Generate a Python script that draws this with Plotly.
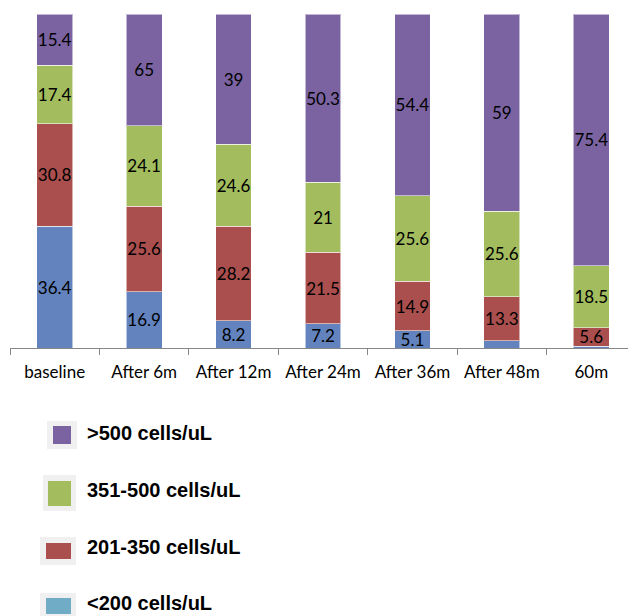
import plotly.graph_objects as go

categories = ["baseline", "After 6m", "After 12m", "After 24m", "After 36m", "After 48m", "60m"]

lt200 = [36.4, 16.9, 8.2, 7.2, 5.1, 2.1, 0.5]
lt200_labels = ["36.4", "16.9", "8.2", "7.2", "5.1", "", ""]
r201_350 = [30.8, 25.6, 28.2, 21.5, 14.9, 13.3, 5.6]
r201_350_labels = ["30.8", "25.6", "28.2", "21.5", "14.9", "13.3", "5.6"]
r351_500 = [17.4, 24.1, 24.6, 21.0, 25.6, 25.6, 18.5]
r351_500_labels = ["17.4", "24.1", "24.6", "21", "25.6", "25.6", "18.5"]
gt500 = [15.4, 33.4, 39.0, 50.3, 54.4, 59.0, 75.4]
gt500_labels = ["15.4", "65", "39", "50.3", "54.4", "59", "75.4"]

series_names = ["<200 cells/uL", "201-350 cells/uL", "351-500 cells/uL", ">500 cells/uL"]
bar_colors = ["#6283BE", "#AA4F4D", "#A2BC5E", "#7A63A0"]
legend_colors = ["#70ACC6", "#AA4F4D", "#A2BC5E", "#7A63A0"]

OFF = 8  # default page body margin
W, H = 636 - OFF, 616 - OFF
PX0, PX1, PY0, PY1 = 10 - OFF, 636 - OFF, 14 - OFF, 348 - OFF
L, R, T, B = PX0, W - PX1, PY0, H - PY1


def px2paper(X, Y):
    X, Y = X - OFF, Y - OFF
    return (X - PX0) / (PX1 - PX0), (PY1 - Y) / (PY1 - PY0)


fig = go.Figure()
for vals, labels, name, col in zip(
    [lt200, r201_350, r351_500, gt500],
    [lt200_labels, r201_350_labels, r351_500_labels, gt500_labels],
    series_names, bar_colors,
):
    fig.add_trace(go.Bar(
        x=categories, y=vals, name=name, text=labels,
        textposition="inside", insidetextanchor="middle", textangle=0,
        textfont=dict(family="Lato", size=17, color="#000000"),
        marker=dict(color=col, line=dict(color="rgba(255,255,255,0.55)", width=1)),
        showlegend=False, hoverinfo="skip", cliponaxis=False,
    ))

# Legend drawn as decorations (top to bottom: >500, 351-500, 201-350, <200)
legend_rows = [
    ((47, 421, 77, 449), (53, 426, 71, 444), 433),
    ((43, 475, 76, 511), (48, 481, 71, 506), 490),
    ((40, 537, 76, 565), (46, 543, 71, 559), 547),
    ((40, 593, 76, 622), (46, 598, 71, 614), 603),
]
order = [3, 2, 1, 0]
shapes = []
annotations = []
for (bg, sq, ty), idx in zip(legend_rows, order):
    bx0, by0 = px2paper(bg[0], bg[1])
    bx1, by1 = px2paper(bg[2], bg[3])
    shapes.append(dict(type="rect", xref="paper", yref="paper", x0=bx0, y0=by0, x1=bx1, y1=by1,
                       fillcolor="#F0F0F0", line=dict(width=0), layer="above"))
    sx0, sy0 = px2paper(sq[0], sq[1])
    sx1, sy1 = px2paper(sq[2], sq[3])
    shapes.append(dict(type="rect", xref="paper", yref="paper", x0=sx0, y0=sy0, x1=sx1, y1=sy1,
                       fillcolor=legend_colors[idx], line=dict(width=0), layer="above"))
    tx, tyy = px2paper(85, ty)
    annotations.append(dict(xref="paper", yref="paper", x=tx, y=tyy, xanchor="left", yanchor="middle",
                            text="<b>%s</b>" % series_names[idx], showarrow=False,
                            font=dict(family="Liberation Sans", size=20, color="#000000")))

fig.update_layout(
    width=W, height=H,
    margin=dict(l=L, r=R, t=T, b=B),
    barmode="stack", bargap=0.6,
    paper_bgcolor="white", plot_bgcolor="white",
    uniformtext=dict(minsize=17, mode="show"),
    shapes=shapes, annotations=annotations,
    xaxis=dict(showline=True, linecolor="#868686", linewidth=1, ticks="outside", tickson="boundaries",
               ticklen=6, tickcolor="#868686", showgrid=False,
               tickfont=dict(family="Lato", size=17, color="#000000"), ticklabelstandoff=9),
    yaxis=dict(visible=False, range=[0, 100], showgrid=False, zeroline=False),
)

fig.write_html("out.html")
